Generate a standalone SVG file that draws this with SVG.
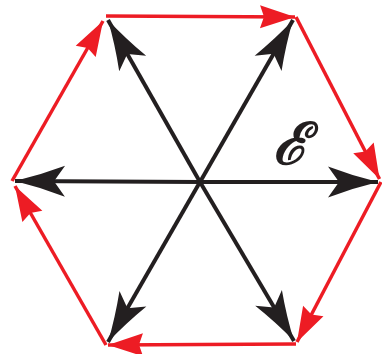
<svg xmlns="http://www.w3.org/2000/svg" width="382" height="354" viewBox="0 0 382 354">
<style>
.blk{stroke:#231f20;stroke-width:4;fill:none}
.red{stroke:#ed1c24;stroke-width:3.5;fill:none}
.lbl{font-family:"DejaVu Serif",serif;font-style:italic;font-weight:bold;font-size:58px;fill:#231f20}
</style>
<defs>
<marker id="ab" markerUnits="userSpaceOnUse" orient="auto" overflow="visible" refX="0" refY="0" markerWidth="1" markerHeight="1">
<path d="M0,0 Q-25,-6 -50,-15.5 L-39,0 L-50,15.5 Q-25,6 0,0 Z" fill="#231f20"/>
</marker>
<marker id="ar" markerUnits="userSpaceOnUse" orient="auto" overflow="visible" refX="0" refY="0" markerWidth="1" markerHeight="1">
<path d="M0,0 L-35,-11.5 L-31,0 L-35,11.5 Z" fill="#ed1c24"/>
</marker>
</defs>
<g id="edges">
<line class="red" x1="106" y1="16" x2="295" y2="17" marker-end="url(#ar)"/>
<line class="red" x1="296" y1="17" x2="379.5" y2="179" marker-end="url(#ar)"/>
<line class="red" x1="381" y1="182" x2="297" y2="342" marker-end="url(#ar)"/>
<line class="red" x1="296" y1="344" x2="108" y2="345" marker-end="url(#ar)"/>
<line class="red" x1="106" y1="345" x2="15" y2="186" marker-end="url(#ar)"/>
<line class="red" x1="12" y1="181" x2="103" y2="21" marker-end="url(#ar)"/>
</g>
<g id="vectors">
<line class="blk" x1="200" y1="182" x2="378" y2="182" marker-end="url(#ab)"/>
<line class="blk" x1="200" y1="182" x2="293" y2="20" marker-end="url(#ab)"/>
<line class="blk" x1="200" y1="182" x2="108" y2="20" marker-end="url(#ab)"/>
<line class="blk" x1="200" y1="182" x2="15" y2="181" marker-end="url(#ab)"/>
<line class="blk" x1="200" y1="182" x2="108" y2="342" marker-end="url(#ab)"/>
<line class="blk" x1="200" y1="182" x2="294" y2="341" marker-end="url(#ab)"/>
</g>
<g id="label">
<text class="lbl" x="273" y="164">ℰ</text>
</g>
</svg>
